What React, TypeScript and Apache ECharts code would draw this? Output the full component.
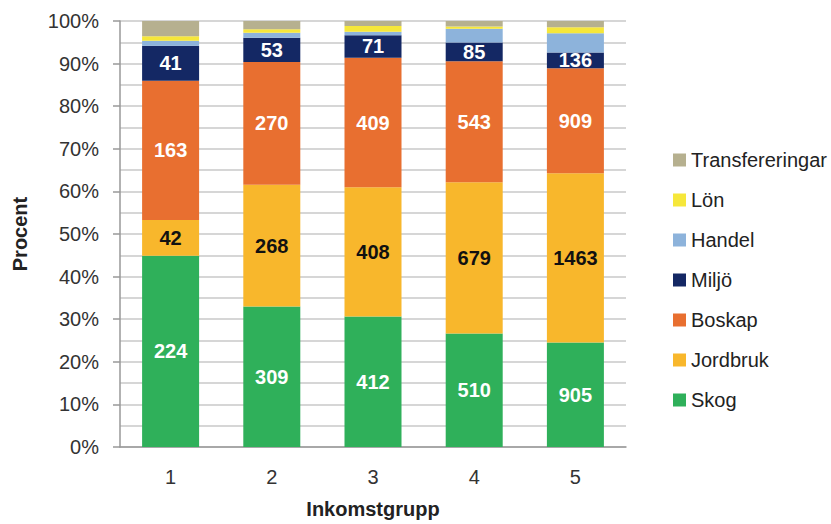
import React, { useEffect, useRef } from "react";
import * as echarts from "echarts";

const categories = ["1", "2", "3", "4", "5"];
const skog = [224, 309, 412, 510, 905];
const jordbruk = [42, 268, 408, 679, 1463];
const boskap = [163, 270, 409, 543, 909];
const miljo = [41, 53, 71, 85, 136];
const handel = [6, 11, 11, 61, 166];
const lon = [5, 8, 18, 10, 52];
const transfereringar = [18, 18, 16, 25, 55];
const yTicks = [0, 10, 20, 30, 40, 50, 60, 70, 80, 90, 100];

const seriesDefs = [
  { name: "Skog", data: skog, color: "#2fb05a", label: true, labelColor: "#ffffff" },
  { name: "Jordbruk", data: jordbruk, color: "#f8b72c", label: true, labelColor: "#111111" },
  { name: "Boskap", data: boskap, color: "#e86f30", label: true, labelColor: "#ffffff" },
  { name: "Miljö", data: miljo, color: "#142864", label: true, labelColor: "#ffffff" },
  { name: "Handel", data: handel, color: "#8db3db", label: false, labelColor: "#fff" },
  { name: "Lön", data: lon, color: "#f6e73a", label: false, labelColor: "#fff" },
  { name: "Transfereringar", data: transfereringar, color: "#b6b08f", label: false, labelColor: "#fff" },
];

const FONT = "Liberation Sans";

export default function App() {
  const ref = useRef<HTMLDivElement>(null);
  useEffect(() => {
    if (!ref.current) return;
    const chart = echarts.init(ref.current, null, { renderer: "svg" });
    const totals = categories.map((_, i) =>
      seriesDefs.reduce((s, d) => s + d.data[i], 0)
    );
    chart.setOption({
      animation: false,
      textStyle: { fontFamily: FONT },
      grid: { left: 120, right: 205, top: 21, bottom: 74 },
      legend: {
        orient: "vertical",
        left: 668,
        top: 145,
        itemWidth: 13,
        itemHeight: 13,
        itemGap: 20,
        icon: "rect",
        data: seriesDefs.map((d) => d.name).reverse(),
        textStyle: { fontFamily: FONT, fontSize: 20, color: "#222", lineHeight: 20 },
      },
      xAxis: {
        type: "category",
        data: categories,
        axisTick: { show: false },
        axisLine: { lineStyle: { color: "#999", width: 1.5 } },
        axisLabel: { fontFamily: FONT, fontSize: 20, color: "#333", margin: 20 },
        name: "Inkomstgrupp",
        nameLocation: "middle",
        nameGap: 52,
        nameTextStyle: { fontFamily: FONT, fontSize: 20, fontWeight: "bold", color: "#222" },
      },
      yAxis: {
        type: "value",
        min: yTicks[0],
        max: yTicks[yTicks.length - 1],
        interval: 10,
        axisLine: { show: true, lineStyle: { color: "#999", width: 1.5 } },
        axisTick: { show: true, length: 7, lineStyle: { color: "#999", width: 1.5 } },
        axisLabel: { fontFamily: FONT, fontSize: 20, color: "#333", margin: 21, formatter: "{value}%" },
        splitLine: { lineStyle: { color: "#c8c8c8", width: 1.5 } },
        minorTick: { show: false, splitNumber: 2 },
        minorSplitLine: { show: true, lineStyle: { color: "#c8c8c8", width: 1.5 } },
        name: "Procent",
        nameLocation: "middle",
        nameGap: 90,
        nameTextStyle: { fontFamily: FONT, fontSize: 20, fontWeight: "bold", color: "#222" },
      },
      series: seriesDefs.map((d) => ({
        name: d.name,
        type: "bar",
        stack: "total",
        barWidth: 57,
        itemStyle: { color: d.color },
        data: d.data.map((v, i) => (v / totals[i]) * 100),
        label: {
          show: d.label,
          position: "inside",
          fontFamily: FONT,
          fontSize: 20,
          fontWeight: "bold",
          color: d.labelColor,
          formatter: (p: any) => String(d.data[p.dataIndex]),
        },
      })),
    });
    return () => chart.dispose();
  }, []);
  return (
    <div
      ref={ref}
      style={{ position: "fixed", left: 0, top: 0, width: 831, height: 524, background: "#fff" }}
    />
  );
}
